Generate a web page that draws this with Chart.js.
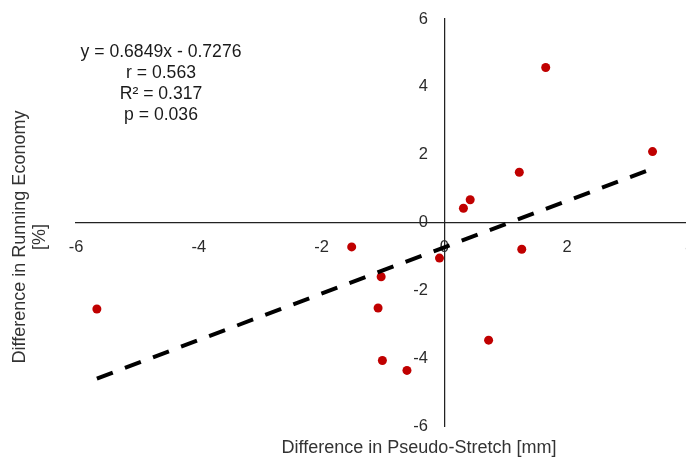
<!DOCTYPE html>
<html>
<head>
<meta charset="utf-8">
<script src="https://cdn.jsdelivr.net/npm/chart.js@4"></script>
<style>
  html, body { margin: 0; padding: 0; background: #fff; overflow: hidden; }
  #wrap { width: 710px; height: 458px; }
</style>
</head>
<body>
<div id="wrap"><canvas id="scatter-chart" width="710" height="458"></canvas></div>
<script>
const scatterChart = document.getElementById("scatter-chart");

// values
const pseudoStretch = [0.31, 0.42, 1.22, 1.65, 3.39, -5.66, -1.51, -1.03, -1.08, -1.01, -0.61, -0.08, 1.26, 0.72];
const runningEconomy = [0.42, 0.67, 1.48, 4.57, 2.09, -2.55, -0.72, -1.60, -2.52, -4.07, -4.36, -1.05, -0.79, -3.47];
const trendX = [-5.66, 3.39];
const trendY = [-4.60, 1.59];
const statsLines = ["y = 0.6849x - 0.7276", "r = 0.563", "R\u00b2 = 0.317", "p = 0.036"];
const xTitle = "Difference in Pseudo-Stretch [mm]";
const yTitle = ["Difference in Running Economy", "[%]"];

const FONT = "'Liberation Sans', Arial, sans-serif";

// axis titles + regression text
const textPlugin = {
  id: "texts",
  afterDraw(chart) {
    const ctx = chart.ctx;
    ctx.save();
    ctx.fillStyle = "#1a1a1a";
    ctx.font = "17.6px " + FONT;
    ctx.textAlign = "center";
    ctx.textBaseline = "middle";
    statsLines.forEach((t, i) => ctx.fillText(t, 161, 52.5 + i * 20.8));

    ctx.fillStyle = "#333";
    ctx.font = "18px " + FONT;
    ctx.fillText(xTitle, 419, 448);
    ctx.translate(0, 237);
    ctx.rotate(-Math.PI / 2);
    ctx.fillText(yTitle[0], 0, 20);
    ctx.fillText(yTitle[1], 0, 40);
    ctx.restore();
  }
};

new Chart(scatterChart, {
  type: "scatter",
  data: {
    datasets: [
      {
        label: "Trend",
        type: "line",
        data: trendX.map((x, i) => ({ x: x, y: trendY[i] })),
        borderColor: "#000",
        borderWidth: 4,
        borderDash: [17, 13],
        pointRadius: 0,
        fill: false,
      },
      {
        label: "Participants",
        data: pseudoStretch.map((x, i) => ({ x: x, y: runningEconomy[i] })),
        backgroundColor: "#C00000",
        borderColor: "#C00000",
        pointRadius: 4.5,
        borderWidth: 0,
      },
    ],
  },
  options: {
    responsive: false,
    animation: false,
    layout: { padding: { left: 76, top: 19, right: 20, bottom: 32 } },
    plugins: { legend: { display: false }, tooltip: { enabled: false } },
    scales: {
      x: {
        type: "linear",
        position: { y: 0 },
        min: -6,
        max: 4,
        ticks: { stepSize: 2, padding: 15, color: "#2b2b2b", font: { family: FONT, size: 16.5 } },
        grid: { display: false, drawTicks: false },
        border: { display: true, color: "#222", width: 1.25 },
      },
      y: {
        type: "linear",
        position: { x: 0 },
        min: -6,
        max: 6,
        // labels sit right on the axis when it is placed at a value, so pad with en spaces
        ticks: {
          stepSize: 2,
          padding: 0,
          color: "#2b2b2b",
          font: { family: FONT, size: 16.5 },
          callback: (v) => v + "\u2002\u2002",
        },
        grid: { display: false, drawTicks: false },
        border: { display: true, color: "#222", width: 1.25 },
      },
    },
  },
  plugins: [textPlugin],
});
</script>
</body>
</html>
